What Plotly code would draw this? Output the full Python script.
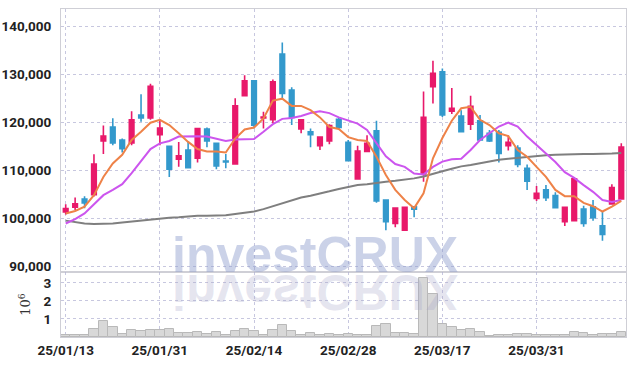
import plotly.graph_objects as go

dates = ["25/01/13", "25/01/14", "25/01/15", "25/01/16", "25/01/17",
         "25/01/20", "25/01/21", "25/01/22", "25/01/23", "25/01/24", "25/01/31",
         "25/02/03", "25/02/04", "25/02/05", "25/02/06", "25/02/07",
         "25/02/10", "25/02/11", "25/02/12", "25/02/13", "25/02/14",
         "25/02/17", "25/02/18", "25/02/19", "25/02/20", "25/02/21",
         "25/02/24", "25/02/25", "25/02/26", "25/02/27", "25/02/28",
         "25/03/04", "25/03/05", "25/03/06", "25/03/07",
         "25/03/10", "25/03/11", "25/03/12", "25/03/13", "25/03/14", "25/03/17",
         "25/03/18", "25/03/19", "25/03/20", "25/03/21",
         "25/03/24", "25/03/25", "25/03/26", "25/03/27", "25/03/28", "25/03/31",
         "25/04/01", "25/04/02", "25/04/03", "25/04/04",
         "25/04/07", "25/04/08", "25/04/09", "25/04/10", "25/04/11"]

opens = [101300, 102300, 104000, 104900, 116100, 119000, 116300, 115700, 121500, 120900,
         117400, 115000, 112300, 114200, 112500, 118600, 115600, 111900, 111300, 125500,
         128600, 120900, 120500, 134200, 126700, 118600, 118000, 115100, 116100, 120600,
         115800, 108200, 113900, 118200, 103800, 98900, 97500, 102400, 109200, 127400,
         130500, 122300, 121300, 119600, 120300, 117700, 117900, 115100, 114600, 110400,
         104100, 105900, 104700, 99300, 99500, 101900, 102400, 98400, 103000, 104000]
highs = [102900, 104300, 104600, 113300, 119300, 120800, 116600, 122300, 125800, 128000,
         120500, 115000, 115900, 115900, 118700, 118900, 115600, 113400, 125000, 129800,
         128600, 122200, 128900, 136600, 127300, 120500, 118700, 116900, 119600, 121000,
         116300, 115100, 117300, 120300, 103800, 102100, 102300, 102400, 126400, 132800,
         131200, 127100, 122500, 125500, 121500, 118400, 118400, 117300, 115200, 111200,
         106700, 106900, 105400, 102300, 108600, 102600, 103800, 101400, 107100, 115600]
lows = [100800, 101700, 102100, 104500, 113400, 115200, 113700, 115200, 120100, 120500,
        115200, 108600, 110700, 110500, 111600, 114800, 110200, 110400, 111300, 125500,
        118700, 118700, 119800, 125000, 119400, 117700, 114800, 114200, 115400, 118400,
        111800, 108100, 113900, 103200, 97500, 98100, 97400, 100200, 107600, 123900,
        121100, 121700, 117900, 118400, 116100, 115900, 111600, 114100, 110600, 105900,
        103600, 103600, 102100, 98400, 99500, 98200, 99500, 95300, 102800, 104000]
closes = [102000, 103000, 103200, 111300, 117100, 115700, 114500, 120500, 120900, 127500,
          118800, 110200, 113000, 110500, 118700, 116100, 110900, 111700, 123400, 128600,
          119400, 121100, 128400, 126000, 121000, 120500, 117400, 116900, 119300, 118900,
          112000, 114000, 115600, 103600, 99300, 102100, 102300, 101900, 121000, 130200,
          121500, 122900, 118000, 123300, 116300, 116100, 113500, 115800, 111200, 107700,
          105200, 104300, 102200, 102300, 108200, 98900, 100100, 96600, 106400, 114800]

ma_short = [101000, 101500, 102400, 104800, 108600, 111400, 113200, 116300, 118000, 119900,
            120500, 119400, 117700, 115900, 114400, 113900, 113900, 113700, 116600, 118500,
            118900, 120800, 124500, 124900, 123400, 123400, 122500, 121000, 119000, 118600,
            116900, 116300, 116100, 112800, 109000, 105900, 103800, 102100, 105200, 112500,
            116700, 120300, 122900, 123200, 120500, 119400, 117700, 117100, 114200, 112800,
            110700, 108600, 105900, 104600, 104600, 103200, 102500, 101400, 102400, 103600]
ma_mid = [98900, 99800, 101000, 103000, 104800, 105900, 107100, 109400, 111800, 114400,
          115600, 116100, 117000, 117100, 117100, 117000, 116500, 116100, 116400, 116500,
          116500, 118000, 119600, 120700, 120900, 121300, 121900, 122300, 121900, 121000,
          120400, 119700, 118400, 115700, 112900, 111300, 110700, 109300, 109100, 110700,
          111800, 112300, 112400, 114200, 116300, 117700, 119100, 119900, 119100, 117000,
          115200, 113500, 111700, 109600, 108400, 106900, 105500, 103800, 103400, 103800]
ma_long = [99500, 99200, 98900, 98800, 98800, 98900, 99100, 99300, 99500, 99800,
           99900, 100100, 100200, 100400, 100500, 100500, 100600, 100600, 100900, 101200,
           101400, 101900, 102500, 103200, 103800, 104300, 104700, 105100, 105600, 106100,
           106500, 106900, 107100, 107400, 107600, 107800, 108000, 108300, 108700, 109300,
           109800, 110300, 110800, 111100, 111500, 111900, 112200, 112400, 112600, 112700,
           112900, 113100, 113200, 113300, 113400, 113400, 113400, 113400, 113500, 113600]

volume_m = [0.10, 0.10, 0.10, 0.45, 0.88, 0.57, 0.18, 0.40, 0.35, 0.40,
            0.40, 0.46, 0.22, 0.22, 0.28, 0.17, 0.28, 0.10, 0.33, 0.45,
            0.33, 0.12, 0.37, 0.68, 0.31, 0.09, 0.22, 0.09, 0.17, 0.09,
            0.17, 0.09, 0.09, 0.59, 0.70, 0.25, 0.22, 0.17, 3.27, 2.40,
            0.74, 0.56, 0.40, 0.44, 0.28, 0.07, 0.12, 0.12, 0.15, 0.17,
            0.12, 0.12, 0.10, 0.10, 0.28, 0.22, 0.10, 0.15, 0.15, 0.28]

tick_dates = ["25/01/13", "25/01/31", "25/02/14", "25/02/28", "25/03/17", "25/03/31"]
price_ticks = [90000, 100000, 110000, 120000, 130000, 140000]
vol_ticks = [1, 2, 3]

PINK = "#E8196A"
BLUE = "#3399CC"
GRID = "rgba(175,175,210,0.7)"
AXLINE = "#CFCFD6"
TICKFONT = dict(family="Roboto, sans-serif", size=13.5, color="#222222", weight="bold")

fig = go.Figure()
fig.add_trace(go.Bar(
    x=dates, y=volume_m, xaxis="x2", yaxis="y2",
    marker=dict(color="#D8D8D8", line=dict(color="#B9B9B9", width=1)),
    hoverinfo="skip", showlegend=False))
fig.add_trace(go.Candlestick(
    x=dates, open=opens, high=highs, low=lows, close=closes,
    xaxis="x", yaxis="y",
    increasing=dict(line=dict(color=PINK, width=1.6), fillcolor=PINK),
    decreasing=dict(line=dict(color=BLUE, width=1.6), fillcolor=BLUE),
    showlegend=False))
fig.add_trace(go.Scatter(x=dates, y=ma_long, mode="lines", xaxis="x", yaxis="y",
                         line=dict(color="#7F7F7F", width=2), showlegend=False))
fig.add_trace(go.Scatter(x=dates, y=ma_mid, mode="lines", xaxis="x", yaxis="y",
                         line=dict(color="#CC55EE", width=2), showlegend=False))
fig.add_trace(go.Scatter(x=dates, y=ma_short, mode="lines", xaxis="x", yaxis="y",
                         line=dict(color="#EE8248", width=2), showlegend=False))

split = 65 / 328

common_x = dict(type="category", range=[-0.5, len(dates) - 0.5], tickvals=tick_dates,
                showgrid=True, gridcolor=GRID, griddash="dot", gridwidth=1,
                showline=True, linecolor=AXLINE, mirror=True, ticks="",
                zeroline=False, fixedrange=True, automargin=False)

fig.update_layout(
    width=634, height=366,
    margin=dict(l=61, r=8, t=9, b=29),
    paper_bgcolor="white", plot_bgcolor="white",
    bargap=0,
    xaxis=dict(domain=[0, 1], anchor="y", showticklabels=False,
               rangeslider=dict(visible=False), **common_x),
    xaxis2=dict(domain=[0, 1], anchor="y2", matches="x", showticklabels=True,
                tickfont=TICKFONT, ticklabelstandoff=1, **common_x),
    yaxis=dict(domain=[split, 1], range=[88800, 143580], tickvals=price_ticks,
               tickformat=",d", tickfont=TICKFONT, showgrid=True, gridcolor=GRID,
               griddash="dot", showline=True, linecolor=AXLINE, mirror=True,
               zeroline=False, ticks="", ticklabelstandoff=6, automargin=False),
    yaxis2=dict(domain=[0, split], range=[0, 3.61], tickvals=vol_ticks,
                tickfont=TICKFONT, showgrid=True, gridcolor=GRID, griddash="dot",
                showline=True, linecolor=AXLINE, mirror=True, zeroline=False,
                ticks="", ticklabelstandoff=6, automargin=False,
                title=dict(text="10<sup>6</sup>", standoff=9,
                           font=dict(family="DejaVu Serif, serif", size=13, color="#333333"))),
    annotations=[
        dict(text="<b>investCRUX</b>", xref="paper", yref="paper", x=0.4496, y=0.25,
             xanchor="center", yanchor="middle", showarrow=False,
             font=dict(family="Liberation Sans, Arial, sans-serif", size=50,
                       color="rgba(140,155,205,0.45)")),
        dict(text="<b>investCRUX</b>", xref="paper", yref="paper", x=0.4496, y=0.25,
             xanchor="center", yanchor="middle", showarrow=False,
             font=dict(family="Liberation Sans, Arial, sans-serif", size=50,
                       color="rgba(165,165,200,0.28)")),
    ],
)

flip_js = """
var gd = document.getElementById('{plot_id}');
var anns = gd.querySelectorAll('g.annotation');
if (anns.length > 1) {
  var g = anns[1].querySelector('g.annotation-text-g');
  var bb = g.getBBox();
  var b = bb.y + bb.height * 0.81;
  g.setAttribute('transform', (g.getAttribute('transform') || '') +
                 ' translate(0,' + (2 * b) + ') scale(1,-1)');
}
"""

fig.write_html("out.html", post_script=flip_js)
